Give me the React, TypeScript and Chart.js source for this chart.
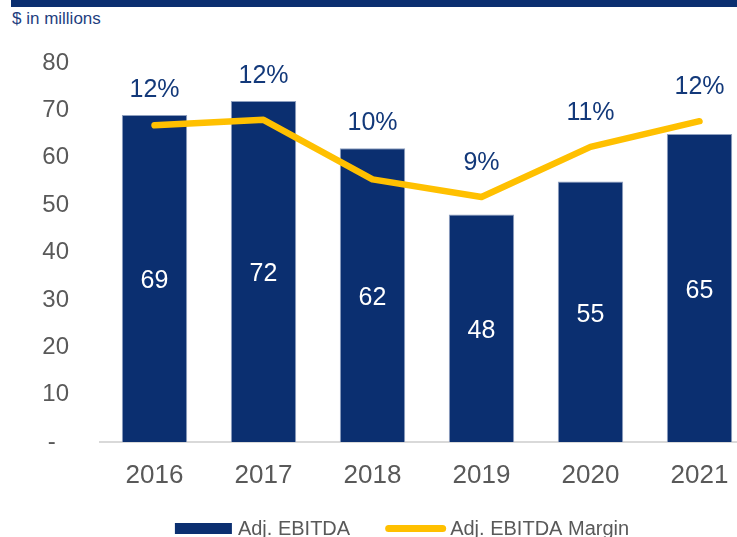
import React, { useEffect, useRef } from "react";
import { Chart, registerables } from "chart.js";

Chart.register(...registerables);

const categories = ["2016", "2017", "2018", "2019", "2020", "2021"];
const ebitda = [69, 72, 62, 48, 55, 65];
const marginPct = [11.7, 11.9, 9.7, 9.05, 10.9, 11.85];
const yTicks = [0, 10, 20, 30, 40, 50, 60, 70, 80];
const seriesNames = ["Adj. EBITDA", "Adj. EBITDA Margin"];

const NAVY = "#0B2F70";
const YELLOW = "#FFC000";
const GRAY_TEXT = "#595959";
const FONT = "'Liberation Sans', Arial, sans-serif";

const labelsPlugin = {
  id: "customLabels",
  afterDatasetsDraw(chart: any) {
    const ctx = chart.ctx;
    const barMeta = chart.getDatasetMeta(1);
    const lineMeta = chart.getDatasetMeta(0);
    ctx.save();
    ctx.textAlign = "center";
    ctx.textBaseline = "middle";
    ctx.font = `25px ${FONT}`;
    barMeta.data.forEach((bar: any, i: number) => {
      ctx.fillStyle = "#FFFFFF";
      ctx.fillText(String(ebitda[i]), bar.x, (bar.y + bar.base) / 2 + 3);
      const pt = lineMeta.data[i];
      const ly = Math.min(bar.y - 25, pt.y - 34);
      ctx.fillStyle = "#13397A";
      ctx.fillText(`${Math.round(marginPct[i])}%`, pt.x, ly);
    });
    ctx.restore();
  },
};

const legendPlugin = {
  id: "customLegend",
  afterDraw(chart: any) {
    const ctx = chart.ctx;
    ctx.save();
    ctx.font = `20px ${FONT}`;
    const boxW = 57;
    const lineW = 61;
    const t1 = ctx.measureText(seriesNames[0]).width;
    const t2 = ctx.measureText(seriesNames[1]).width;
    const total = boxW + 6 + t1 + 35 + lineW + 4 + t2;
    const centerX = 402;
    let x = centerX - total / 2;
    const baseY = 535;
    ctx.fillStyle = NAVY;
    ctx.fillRect(x, 523, boxW, 11);
    x += boxW + 6;
    ctx.fillStyle = GRAY_TEXT;
    ctx.textAlign = "left";
    ctx.textBaseline = "alphabetic";
    ctx.fillText(seriesNames[0], x, baseY);
    x += t1 + 35;
    ctx.strokeStyle = YELLOW;
    ctx.lineWidth = 7;
    ctx.lineCap = "round";
    ctx.beginPath();
    ctx.moveTo(x + 3.5, 528.5);
    ctx.lineTo(x + lineW - 3.5, 528.5);
    ctx.stroke();
    x += lineW + 4;
    ctx.fillText(seriesNames[1], x, baseY);
    ctx.restore();
  },
};

export default function App() {
  const ref = useRef<HTMLCanvasElement | null>(null);
  useEffect(() => {
    if (!ref.current) return;
    const chart = new Chart(ref.current, {
      type: "bar",
      data: {
        labels: categories,
        datasets: [
          {
            type: "line",
            label: seriesNames[1],
            data: marginPct,
            yAxisID: "y1",
            borderColor: YELLOW,
            backgroundColor: YELLOW,
            borderWidth: 6.5,
            borderCapStyle: "round",
            borderJoinStyle: "round",
            pointRadius: 0,
            tension: 0,
            order: 1,
          } as any,
          {
            type: "bar",
            label: seriesNames[0],
            data: ebitda,
            yAxisID: "y",
            backgroundColor: NAVY,
            borderColor: "#8FA0BF",
            borderWidth: 1,
            categoryPercentage: 1,
            barPercentage: 0.6,
            order: 2,
          } as any,
        ],
      },
      options: {
        responsive: false,
        animation: false,
        layout: { padding: { top: 63, left: 0, right: 0, bottom: 0 } },
        plugins: {
          legend: { display: false },
          tooltip: { enabled: false },
        },
        scales: {
          x: {
            offset: true,
            grid: { display: true, color: "rgba(0,0,0,0)", drawTicks: false },
            border: { display: true, color: "#D9D9D9", width: 2 },
            ticks: {
              color: GRAY_TEXT,
              font: { size: 26, family: FONT },
              padding: 18,
              maxRotation: 0,
            },
            afterFit: (s: any) => {
              s.height = 95;
            },
          },
          y: {
            min: 0,
            max: 80,
            grid: { display: false, drawTicks: false },
            border: { display: false },
            afterBuildTicks: (s: any) => {
              s.ticks = yTicks.map((v) => ({ value: v }));
            },
            ticks: {
              color: GRAY_TEXT,
              font: { size: 24, family: FONT },
              padding: 31,
              callback: (v: any) => (Number(v) === 0 ? "-  " : String(v)),
            },
            afterFit: (s: any) => {
              s.width = 100;
            },
          },
          y1: {
            display: false,
            min: 0,
            max: 14,
          },
        },
      },
      plugins: [labelsPlugin, legendPlugin],
    });
    return () => chart.destroy();
  }, []);

  return (
    <div
      style={{
        position: "fixed",
        left: 0,
        top: 0,
        width: 737,
        height: 537,
        overflow: "hidden",
        background: "#FFFFFF",
      }}
    >
      <div
        style={{
          position: "absolute",
          left: 11,
          top: 0,
          width: 760,
          height: 7,
          background: NAVY,
        }}
      />
      <div
        style={{
          position: "absolute",
          left: 12,
          top: 9,
          fontFamily: FONT,
          fontSize: 17,
          lineHeight: "20px",
          color: "#1F3F7F",
          whiteSpace: "nowrap",
        }}
      >
        $ in millions
      </div>
      <canvas
        ref={ref}
        width={754}
        height={537}
        style={{ position: "absolute", left: 0, top: 0, width: 754, height: 537 }}
      />
    </div>
  );
}
